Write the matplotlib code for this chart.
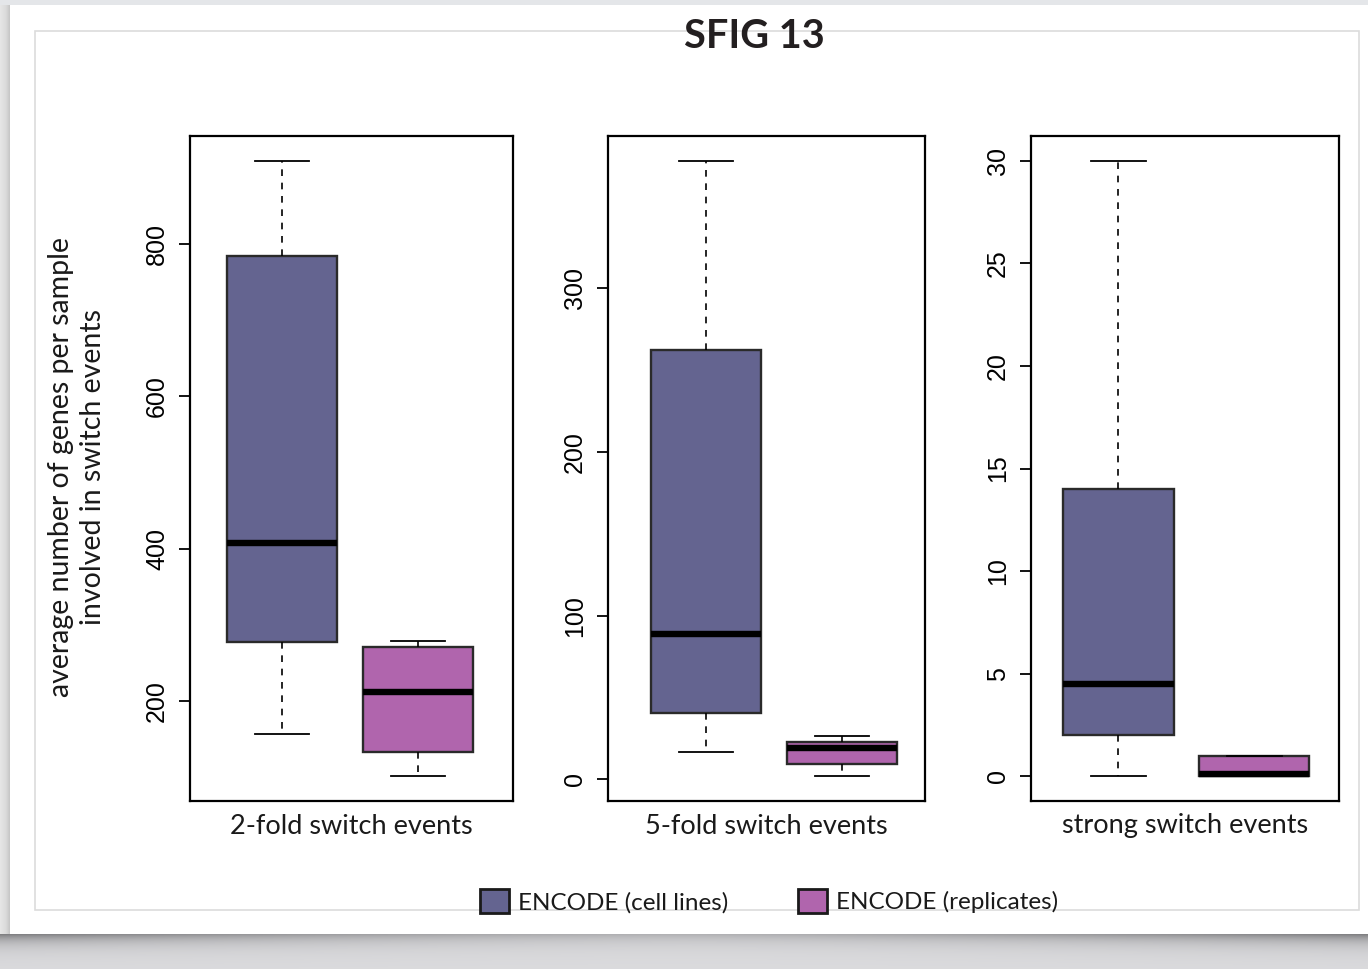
import numpy as np
import matplotlib
matplotlib.use("Agg")
import matplotlib.pyplot as plt
from matplotlib.patches import Rectangle, Patch

# ---------------- data ----------------
panel_titles = ["2-fold switch events", "5-fold switch events", "strong switch events"]
series_names = ["ENCODE (cell lines)", "ENCODE (replicates)"]

# five-number summaries per panel: [cell lines, replicates]
whislo = [[157, 101.5], [16.5, 1.8], [0.0, 0.0]]
q1     = [[277.5, 134], [40.4, 9.2], [2.0, 0.0]]
med    = [[407, 212],   [88.8, 19.0], [4.5, 0.1]]
q3     = [[784, 271],   [262, 22.7], [14.0, 1.0]]
whishi = [[909, 279],   [378, 26.3], [30.0, 1.0]]

yticks = [[200, 400, 600, 800], [0, 100, 200, 300], [0, 5, 10, 15, 20, 25, 30]]

colors = ["#646490", "#b065ad"]
ylabel = "average number of genes per sample\ninvolved in switch events"
title = "SFIG 13"

# ---------------- figure ----------------
W, H = 1368, 969
fig = plt.figure(figsize=(W / 100, H / 100), dpi=100)
fig.patch.set_facecolor("#e4e6e9")

# background page with shadow
bg = fig.add_axes([0, 0, 1, 1], zorder=-10)
bg.set_xlim(0, W)
bg.set_ylim(H, 0)
bg.axis("off")
lx = np.linspace(0, 1, 12)
left_grad = np.tile(np.interp(lx, [0, 0.6, 1], [0.90, 0.86, 0.78])[None, :], (2, 1))
bg.imshow(np.dstack([left_grad] * 3), extent=[0, 10, 935, 5], aspect="auto", zorder=0)
ny, nx = 40, 300
yy = np.linspace(0, 1, ny)[:, None]
xx = np.linspace(-1, 1, nx)[None, :]
edge = 0.45 + 0.55 * np.abs(xx) ** 1.5
dark = np.exp(-yy * 4) * edge
val = 0.86 - 0.36 * dark
bg.imshow(np.dstack([val, val, val + 0.01]).clip(0, 1), extent=[0, W, H, 934],
          aspect="auto", zorder=0)
bg.add_patch(Rectangle((10, 5), W, 929, facecolor="white", edgecolor="none", zorder=1))
bg.add_patch(Rectangle((35, 31), 1324, 879, facecolor="none", edgecolor="#dcdcdc",
                       lw=1.2, zorder=2))

text_font = ["Lato", "DejaVu Sans"]
tick_font = ["Liberation Sans", "DejaVu Sans"]

panels_px = [(190, 513), (608, 925), (1031, 1339)]
xlims = [(0.3235, 2.698), (0.279, 2.610), (0.357, 2.622)]
top_px, bot_px = 136, 801
ylims = [(69.2, 941.3), (-13.2, 393.0), (-1.2, 31.2)]

for i in range(3):
    x0, x1 = panels_px[i]
    ax = fig.add_axes([x0 / W, 1 - bot_px / H, (x1 - x0) / W, (bot_px - top_px) / H])
    ax.set_facecolor("white")
    stats = []
    for j in range(2):
        stats.append(dict(med=med[i][j], q1=q1[i][j], q3=q3[i][j],
                          whislo=whislo[i][j], whishi=whishi[i][j], fliers=[]))
    bp = ax.bxp(stats, positions=[1, 2], widths=0.81, capwidths=0.4,
                patch_artist=True, showfliers=False,
                boxprops=dict(edgecolor="#2a2a2a", linewidth=1.7),
                medianprops=dict(color="black", linewidth=4.6, solid_capstyle="butt"),
                whiskerprops=dict(color="black", linewidth=1.2, linestyle=(0, (4, 4))),
                capprops=dict(color="black", linewidth=1.3))
    for patch, c in zip(bp["boxes"], colors):
        patch.set_facecolor(c)
    ax.set_xlim(*xlims[i])
    ax.set_ylim(*ylims[i])
    ax.set_xticks([])
    ax.set_yticks(yticks[i])
    ax.set_yticklabels([str(t) for t in yticks[i]], rotation=90, va="center",
                       family=tick_font, fontsize=18)
    ax.tick_params(axis="y", length=8, width=1.3, pad=7, color="black")
    for s in ax.spines.values():
        s.set_linewidth(1.6)
        s.set_color("black")
    ax.set_xlabel(panel_titles[i], family=text_font, fontsize=19.5, labelpad=9,
                  color="#1a1a1a")

fig.text(77 / W, 1 - 467 / H, ylabel, rotation=90, ha="center", va="center",
         family=text_font, fontsize=20.5, linespacing=1.25, color="#1a1a1a")
fig.text(754 / W, 1 - 36 / H, title, ha="center", va="center",
         family=text_font, fontweight="bold", fontsize=28.5, color="#231f20")

handles = [Patch(facecolor=c, edgecolor="#1a1a1a", linewidth=2.0) for c in colors]
leg = fig.legend(handles, series_names, loc="center", bbox_to_anchor=(769 / W, 1 - 901 / H),
                 ncol=2, frameon=False, handlelength=1.2, handleheight=1.2,
                 handletextpad=0.35, columnspacing=2.9,
                 prop=dict(family=text_font, size=17.5))
for t in leg.get_texts():
    t.set_color("#1a1a1a")

fig.savefig("out.png", dpi=100)
